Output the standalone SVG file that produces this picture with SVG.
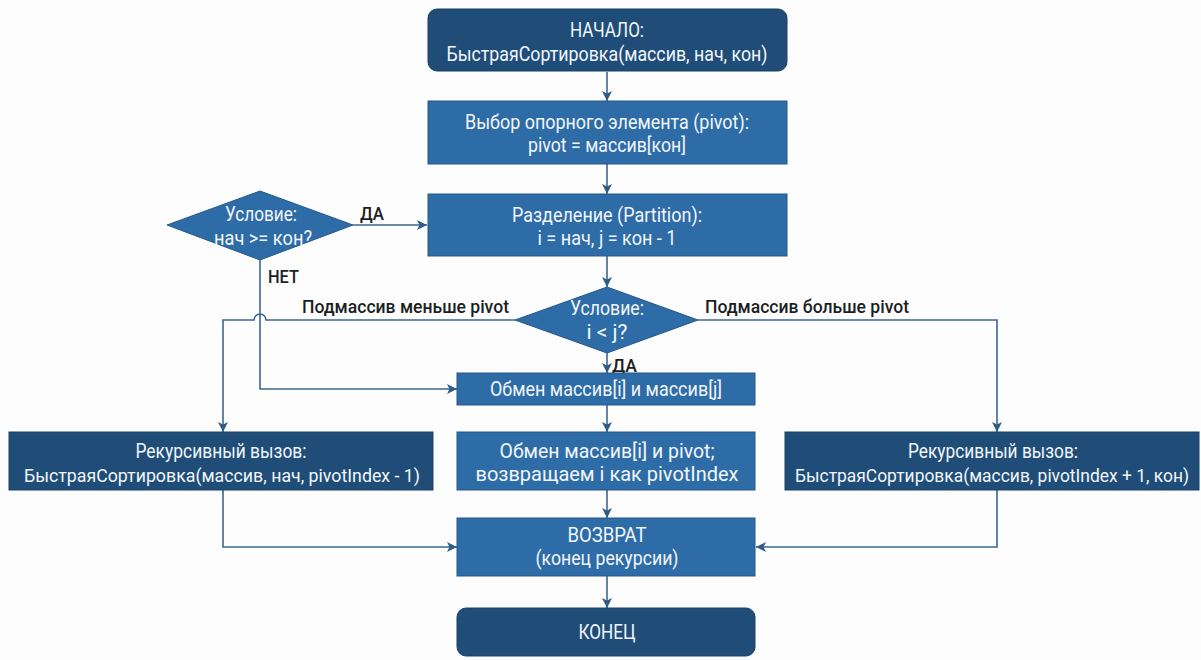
<svg xmlns="http://www.w3.org/2000/svg" width="1201" height="660" viewBox="0 0 1201 660">
<defs>
<marker id="arr" viewBox="0 0 10 10" refX="10" refY="5" markerWidth="10" markerHeight="10" markerUnits="userSpaceOnUse" orient="auto">
<path d="M0,0 L10,5 L0,10 L2.5,5 z" fill="#2f5b86"/>
</marker>
<style>
.dark{fill:#1f4d78;stroke:#1a4268;stroke-width:1}
.mid{fill:#2e6ca7;stroke:#24588c;stroke-width:1}
.t{font-family:Roboto,"Liberation Sans",sans-serif;font-size:20px;fill:#f2f6fa;text-anchor:middle}
.s{font-size:18px}
.lbl{font-family:Roboto,"Liberation Sans",sans-serif;font-size:19px;fill:#1b1f24;font-weight:500}
.ca{fill:none;stroke:#3b6690;stroke-width:1.6;marker-end:url(#arr)}
</style>
</defs>
<rect width="1201" height="660" fill="#fdfdfd"/>

<g id="connectors">
<path class="ca" d="M607 72 V101"/>
<path class="ca" d="M607 164 V194"/>
<path class="ca" d="M607 256 V287"/>
<path class="ca" d="M353 225 H427"/>
<path class="ca" d="M260 260 V389 H457"/>
<path class="ca" d="M515 320 H266 a6 6 0 0 0 -12 0 H223 V432"/>
<path class="ca" d="M698 320 H997 V432"/>
<path class="ca" d="M607 353 V373"/>
<path class="ca" d="M607 405 V432"/>
<path class="ca" d="M607 490 V518"/>
<path class="ca" d="M607 576 V608"/>
<path class="ca" d="M223 490 V547 H457"/>
<path class="ca" d="M997 490 V547 H756"/>
<text class="lbl" x="360" y="220" textLength="24" lengthAdjust="spacingAndGlyphs">ДА</text>
<text class="lbl" x="268" y="283" textLength="31" lengthAdjust="spacingAndGlyphs">НЕТ</text>
<text class="lbl" x="302" y="313" textLength="207" lengthAdjust="spacingAndGlyphs">Подмассив меньше pivot</text>
<text class="lbl" x="705" y="313" textLength="204" lengthAdjust="spacingAndGlyphs">Подмассив больше pivot</text>
<text class="lbl" x="612" y="372" textLength="25" lengthAdjust="spacingAndGlyphs">ДА</text>
</g>

<g id="start">
<rect class="dark" x="428" y="9" width="359" height="62" rx="9"/>
<text class="t" x="607" y="37" textLength="74" lengthAdjust="spacingAndGlyphs">НАЧАЛО:</text>
<text class="t" x="607" y="61" textLength="321" lengthAdjust="spacingAndGlyphs">БыстраяСортировка(массив, нач, кон)</text>
</g>

<g id="pivot">
<rect class="mid" x="428" y="101" width="359" height="63"/>
<text class="t" x="607" y="129" textLength="284" lengthAdjust="spacingAndGlyphs">Выбор опорного элемента (pivot):</text>
<text class="t" x="607" y="152" textLength="158" lengthAdjust="spacingAndGlyphs">pivot = массив[кон]</text>
</g>

<g id="partition">
<rect class="mid" x="428" y="194" width="359" height="62"/>
<text class="t" x="607" y="222" textLength="190" lengthAdjust="spacingAndGlyphs">Разделение (Partition):</text>
<text class="t" x="607" y="245" textLength="139" lengthAdjust="spacingAndGlyphs">i = нач, j = кон - 1</text>
</g>

<g id="cond1">
<polygon class="mid" points="260,191 353,225 260,260 167,225"/>
<text class="t" x="261" y="221" textLength="72" lengthAdjust="spacingAndGlyphs">Условие:</text>
<text class="t" x="263" y="245" textLength="98" lengthAdjust="spacingAndGlyphs">нач &gt;= кон?</text>
</g>

<g id="cond2">
<polygon class="mid" points="607,287 698,320 607,353 515,320"/>
<text class="t" x="607" y="315" textLength="74" lengthAdjust="spacingAndGlyphs">Условие:</text>
<text class="t" x="607" y="339" textLength="41" lengthAdjust="spacingAndGlyphs">i &lt; j?</text>
</g>

<g id="swap1">
<rect class="mid" x="457" y="373" width="298" height="32"/>
<text class="t" x="606" y="396" textLength="232" lengthAdjust="spacingAndGlyphs">Обмен массив[i] и массив[j]</text>
</g>

<g id="swap2">
<rect class="mid" x="457" y="432" width="298" height="58"/>
<text class="t" x="607" y="458" textLength="215" lengthAdjust="spacingAndGlyphs">Обмен массив[i] и pivot;</text>
<text class="t" x="607" y="481" textLength="263" lengthAdjust="spacingAndGlyphs">возвращаем i как pivotIndex</text>
</g>

<g id="return">
<rect class="mid" x="457" y="518" width="298" height="58"/>
<text class="t" x="607" y="542" textLength="79" lengthAdjust="spacingAndGlyphs">ВОЗВРАТ</text>
<text class="t" x="607" y="565" textLength="143" lengthAdjust="spacingAndGlyphs">(конец рекурсии)</text>
</g>

<g id="end">
<rect class="dark" x="457" y="608" width="298" height="48" rx="9"/>
<text class="t" x="607" y="639" textLength="57" lengthAdjust="spacingAndGlyphs">КОНЕЦ</text>
</g>

<g id="recLeft">
<rect class="dark" x="9" y="432" width="424" height="58"/>
<text class="t" x="221" y="458" textLength="171" lengthAdjust="spacingAndGlyphs">Рекурсивный вызов:</text>
<text class="t s" x="222" y="482" textLength="396" lengthAdjust="spacingAndGlyphs">БыстраяСортировка(массив, нач, pivotIndex - 1)</text>
</g>

<g id="recRight">
<rect class="dark" x="785" y="432" width="414" height="58"/>
<text class="t" x="993" y="458" textLength="170" lengthAdjust="spacingAndGlyphs">Рекурсивный вызов:</text>
<text class="t s" x="992" y="482" textLength="394" lengthAdjust="spacingAndGlyphs">БыстраяСортировка(массив, pivotIndex + 1, кон)</text>
</g>
</svg>
